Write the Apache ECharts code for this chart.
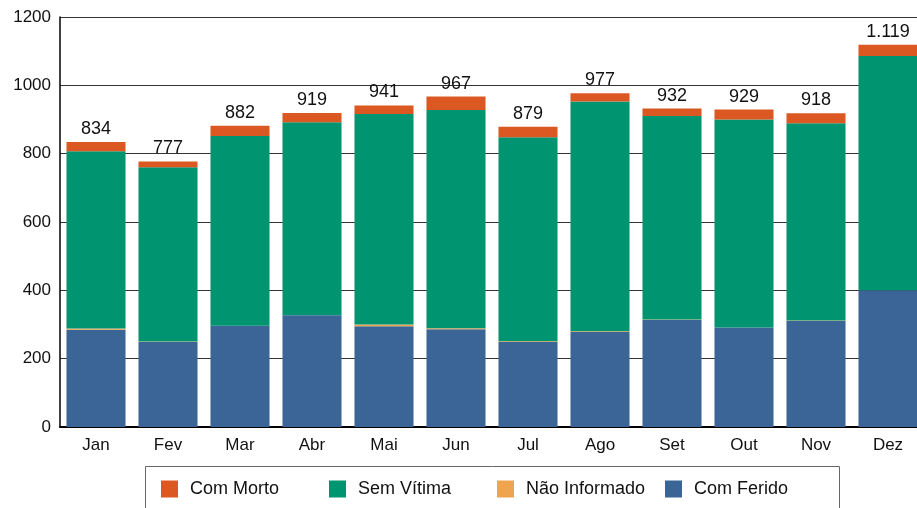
<!DOCTYPE html>
<html>
<head>
<meta charset="utf-8">
<script src="https://cdn.jsdelivr.net/npm/echarts@6/dist/echarts.min.js"></script>
<style>
    html, body { margin: 0; padding: 0; background: #fff; }
    #chart { width: 917px; height: 508px; }
</style>
</head>
<body>
<div id="chart"></div>
<script>
// months and values
const months = ['Jan', 'Fev', 'Mar', 'Abr', 'Mai', 'Jun', 'Jul', 'Ago', 'Set', 'Out', 'Nov', 'Dez'];
const comFerido = [285, 249, 296, 327, 295, 286, 249, 278, 313, 291, 310, 400];
const naoInformado = [3, 1, 0, 0, 5, 3, 2, 2, 2, 0, 2, 0];
const semVitima = [519, 510, 556, 565, 616, 639, 597, 673, 595, 609, 577, 686];
const comMorto = [27, 17, 30, 27, 25, 39, 31, 24, 22, 29, 29, 33];
const totals = [834, 777, 882, 919, 941, 967, 879, 977, 932, 929, 918, 1119];
const yTicks = [0, 200, 400, 600, 800, 1000, 1200];
const legendNames = ['Com Morto', 'Sem Vítima', 'Não Informado', 'Com Ferido'];

const colors = {
    morto: '#dc5822',
    sem: '#009570',
    nao: '#eea450',
    ferido: '#3b6597'
};

// 1119 -> "1.119"
function fmtPt(v) {
    return String(v).replace(/\B(?=(\d{3})+(?!\d))/g, '.');
}

const chart = echarts.init(document.getElementById('chart'), null, { renderer: 'canvas' });

const barBase = {
    type: 'bar',
    stack: 'total',
    barCategoryGap: '18%',
    animation: false
};

// one legend per entry so the entries sit on an even step, like the reference
const legends = legendNames.map((name, i) => ({
    data: [name],
    left: 161 + i * 168,
    top: 480,
    padding: 0,
    itemWidth: 17,
    itemHeight: 17,
    icon: 'rect',
    textStyle: { fontSize: 18, color: '#111', padding: [0, 0, 0, 7] }
}));

chart.setOption({
    textStyle: { fontFamily: 'Liberation Sans, Arial, sans-serif' },
    grid: {
        left: 60,
        top: 17,
        width: 864,
        bottom: 81,
        containLabel: false,
        outerBoundsMode: 'none'
    },
    xAxis: {
        type: 'category',
        data: months,
        axisLine: { lineStyle: { color: '#000', width: 2 } },
        axisTick: { show: false },
        axisLabel: { fontSize: 17, color: '#111', margin: 10 }
    },
    yAxis: {
        type: 'value',
        min: yTicks[0],
        max: yTicks[yTicks.length - 1],
        interval: 200,
        axisLine: { show: true, lineStyle: { color: '#000', width: 1.5 } },
        axisTick: { show: false },
        axisLabel: { fontSize: 17, color: '#111', margin: 9, formatter: v => String(v) },
        splitLine: { lineStyle: { color: '#333', width: 1 } }
    },
    legend: legends,
    graphic: [{
        type: 'rect',
        left: 143,
        top: 464,
        shape: { width: 694, height: 60 },
        style: { fill: 'none', stroke: '#666', lineWidth: 1 },
        silent: true
    }],
    series: [
        Object.assign({}, barBase, {
            name: 'Com Ferido',
            data: comFerido,
            itemStyle: { color: colors.ferido }
        }),
        Object.assign({}, barBase, {
            name: 'Não Informado',
            data: naoInformado,
            itemStyle: { color: colors.nao }
        }),
        Object.assign({}, barBase, {
            name: 'Sem Vítima',
            data: semVitima,
            itemStyle: { color: colors.sem }
        }),
        Object.assign({}, barBase, {
            name: 'Com Morto',
            data: comMorto,
            itemStyle: { color: colors.morto },
            label: {
                show: true,
                position: 'top',
                distance: 4,
                fontSize: 18,
                color: '#111',
                formatter: p => fmtPt(totals[p.dataIndex])
            }
        })
    ]
});
</script>
</body>
</html>
